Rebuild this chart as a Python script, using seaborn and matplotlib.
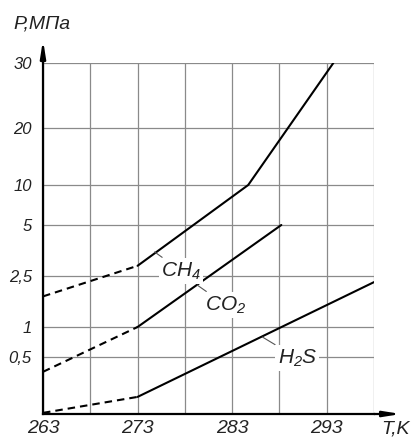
import numpy as np
import pandas as pd
import matplotlib
matplotlib.use("Agg")
import matplotlib.pyplot as plt
import seaborn as sns

# ---------------- data ----------------
ch4_T_ext = [263, 273]
ch4_P_ext = [1.9, 3.0]
ch4_T = [273, 284.7, 293.7]
ch4_P = [3.0, 10.0, 30.0]

co2_T_ext = [263, 273]
co2_P_ext = [0.37, 1.0]
co2_T = [273, 288.2]
co2_P = [1.0, 5.0]

h2s_T_ext = [263, 273]
h2s_P_ext = [0.01, 0.15]
h2s_T = [273, 298]
h2s_P = [0.15, 2.32]

y_ticks = [0, 0.5, 1, 2.5, 5, 10, 20, 30]
y_tick_labels = ["", "0,5", "1", "2,5", "5", "10", "20", "30"]
x_ticks = [263, 268, 273, 278, 283, 288, 293, 298]
x_tick_labels = ["263", "", "273", "", "283", "", "293", ""]

# ---------------- style ----------------
sns.set_style("white")
FONT = ["Liberation Sans Narrow", "Liberation Sans", "DejaVu Sans"]
plt.rcParams["font.family"] = FONT
plt.rcParams["font.style"] = "italic"
plt.rcParams["mathtext.fontset"] = "custom"
plt.rcParams["mathtext.rm"] = "Liberation Sans:italic"
plt.rcParams["mathtext.it"] = "Liberation Sans:italic"

# non-uniform pressure scale of the original nomogram (relative grid heights)
scale_pos = np.array([0, 57, 87, 138, 189, 229, 286, 351], dtype=float)
scale_val = np.array(y_ticks, dtype=float)


def fwd(v):
    v = np.asarray(v, dtype=float)
    out = np.interp(v, scale_val, scale_pos)
    lo = v < scale_val[0]
    hi = v > scale_val[-1]
    s0 = (scale_pos[1] - scale_pos[0]) / (scale_val[1] - scale_val[0])
    s1 = (scale_pos[-1] - scale_pos[-2]) / (scale_val[-1] - scale_val[-2])
    out = np.where(lo, scale_pos[0] + (v - scale_val[0]) * s0, out)
    out = np.where(hi, scale_pos[-1] + (v - scale_val[-1]) * s1, out)
    return out


def inv(p):
    p = np.asarray(p, dtype=float)
    out = np.interp(p, scale_pos, scale_val)
    lo = p < scale_pos[0]
    hi = p > scale_pos[-1]
    s0 = (scale_val[1] - scale_val[0]) / (scale_pos[1] - scale_pos[0])
    s1 = (scale_val[-1] - scale_val[-2]) / (scale_pos[-1] - scale_pos[-2])
    out = np.where(lo, scale_val[0] + (p - scale_pos[0]) * s0, out)
    out = np.where(hi, scale_val[-1] + (p - scale_pos[-1]) * s1, out)
    return out


# ---------------- long table ----------------
rows = []
for gas, T, P, kind in [
    ("CH4", ch4_T_ext, ch4_P_ext, "extrapolated"),
    ("CH4", ch4_T, ch4_P, "measured"),
    ("CO2", co2_T_ext, co2_P_ext, "extrapolated"),
    ("CO2", co2_T, co2_P, "measured"),
    ("H2S", h2s_T_ext, h2s_P_ext, "extrapolated"),
    ("H2S", h2s_T, h2s_P, "measured"),
]:
    for t, p in zip(T, P):
        rows.append({"T": t, "P": p, "gas": gas, "kind": kind, "series": gas + " " + kind})
df = pd.DataFrame(rows)

# ---------------- figure ----------------
fig = plt.figure(figsize=(4.12, 4.43), dpi=100)
W, H = 412, 443
x0, x1, yb, yt = 43, 374, 414, 63
ax = fig.add_axes([x0 / W, (H - yb) / H, (x1 - x0) / W, (yb - yt) / H])

ax.set_yscale("function", functions=(fwd, inv))

sns.lineplot(
    data=df, x="T", y="P", units="series", estimator=None, style="kind",
    dashes={"extrapolated": (3.6, 2.4), "measured": ""},
    color="black", lw=1.5, sort=False, legend=False, ax=ax, zorder=5,
)

ax.set_xlim(263, 298)
ax.set_ylim(0, 30)
ax.set_xticks(x_ticks)
ax.set_xticklabels(x_tick_labels)
ax.set_yticks(y_ticks)
ax.set_yticklabels(y_tick_labels)
ax.minorticks_off()
ax.set_xlabel("")
ax.set_ylabel("")

ax.grid(True, color="#8a8a8a", lw=0.9)
ax.set_axisbelow(True)

for s in ["top", "right"]:
    ax.spines[s].set_visible(False)
for s in ["left", "bottom"]:
    ax.spines[s].set_color("black")
    ax.spines[s].set_linewidth(1.6)
    ax.spines[s].set_zorder(6)

ax.tick_params(axis="x", direction="inout", length=6, width=1.4, color="black",
               pad=1, labelsize=14)
ax.tick_params(axis="y", length=0, pad=8, labelsize=12)
for lab in ax.get_xticklabels() + ax.get_yticklabels():
    lab.set_fontstyle("italic")
    lab.set_color("#222222")

# axis arrows
arr = dict(arrowstyle="-|>,head_length=1.0,head_width=0.16", color="black",
           lw=1.6, shrinkA=0, shrinkB=0, mutation_scale=10)
ax.annotate("", xy=((401 - x0) / (x1 - x0), 0), xytext=(1, 0),
            xycoords="axes fraction", arrowprops=arr, annotation_clip=False)
ax.annotate("", xy=(0, (yb - 40) / (yb - yt)), xytext=(0, 1),
            xycoords="axes fraction", arrowprops=arr, annotation_clip=False)

# axis titles
fig.text(42 / W, 1 - 24 / H, "P,МПа", ha="center", va="center", fontsize=14,
         style="italic", color="#222222")
fig.text(410 / W, 1 - 429 / H, "T,K", ha="right", va="center", fontsize=14,
         style="italic", color="#222222")

# curve labels with leader lines
lead = dict(arrowstyle="-", color="#555555", lw=0.8, shrinkA=1, shrinkB=0)
box = dict(facecolor="white", edgecolor="none", pad=1.5)
ax.annotate(r"$\mathrm{CH}_\mathrm{4}$", xy=(274.8, 3.68), xytext=(277.6, 2.75),
            ha="center", va="center", fontsize=15, color="#222222",
            bbox=box, arrowprops=lead, zorder=7)
ax.annotate(r"$\mathrm{CO}_\mathrm{2}$", xy=(279.3, 2.235), xytext=(282.3, 1.647),
            ha="center", va="center", fontsize=15, color="#222222",
            bbox=box, arrowprops=lead, zorder=7)
ax.annotate(r"$\mathrm{H}_\mathrm{2}\mathrm{S}$", xy=(286.2, 0.833), xytext=(289.9, 0.49),
            ha="center", va="center", fontsize=15, color="#222222",
            bbox=box, arrowprops=lead, zorder=7)

fig.savefig("out.png", dpi=100, facecolor="white")
